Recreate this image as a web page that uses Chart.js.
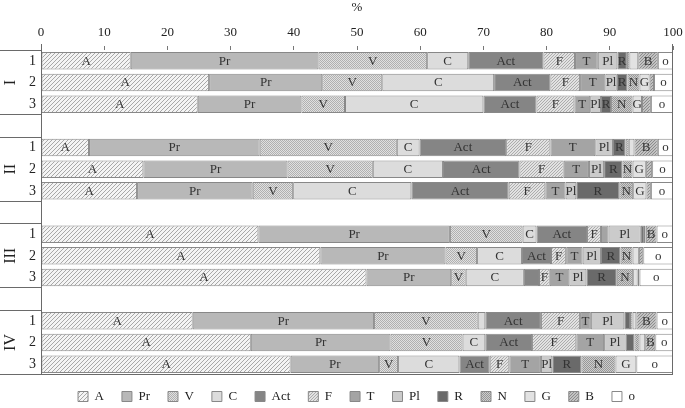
<!DOCTYPE html>
<html>
<head>
<meta charset="utf-8">
<script src="https://cdn.jsdelivr.net/npm/chart.js@4/dist/chart.umd.min.js"></script>
<style>
  html, body { margin: 0; padding: 0; background: #fff; }
  #wrap { width: 685px; height: 408px; }
</style>
</head>
<body>
<div id="wrap"><canvas id="shares"></canvas></div>
<script>
// rows: three samples per group, an empty row between groups
const rowLabels = ['1', '2', '3', '', '1', '2', '3', '', '1', '2', '3', '', '1', '2', '3'];
const groupLabels = ['I', 'II', 'III', 'IV'];

// shares in %, one value per row
const A   = [14.2, 26.6, 24.8, null, 7.6, 16.2, 15.2, null, 34.4, 44.2, 51.5, null, 24.0, 33.2, 39.5];
const Pr  = [29.7, 17.9, 16.4, null, 27.0, 22.8, 18.3, null, 30.3, 19.8, 13.4, null, 28.7, 22.1, 14.0];
const V   = [17.2, 9.5, 6.9, null, 21.7, 13.5, 6.4, null, 11.5, 5.0, 2.3, null, 16.4, 11.4, 3.0];
const C   = [6.5, 17.7, 21.9, null, 3.6, 11.1, 18.7, null, 2.2, 7.1, 9.2, null, 1.2, 3.6, 9.7];
const Act = [11.9, 8.9, 8.4, null, 13.7, 12.1, 15.4, null, 8.0, 4.6, 2.4, null, 8.8, 7.4, 4.8];
const F   = [5.0, 4.7, 6.0, null, 7.0, 7.0, 5.8, null, 2.2, 2.4, 1.7, null, 6.2, 7.0, 3.1];
const T   = [3.6, 4.0, 2.5, null, 7.1, 4.0, 3.2, null, 1.2, 2.6, 3.1, null, 1.7, 4.4, 5.0];
const Pl  = [3.1, 1.8, 1.7, null, 2.8, 2.4, 1.7, null, 5.1, 2.9, 2.7, null, 5.3, 3.4, 1.8];
const R   = [1.5, 1.7, 1.6, null, 2.0, 2.9, 6.8, null, 0.5, 3.1, 4.8, null, 0.9, 1.4, 4.6];
const N   = [0.4, 1.9, 3.4, null, 0.5, 1.6, 2.2, null, 0.2, 1.9, 2.6, null, 0.4, 0.8, 5.4];
const G   = [1.4, 1.6, 1.5, null, 0.9, 2.1, 2.1, null, 0.1, 1.0, 0.7, null, 0.6, 0.9, 3.3];
const B   = [3.1, 0.7, 1.4, null, 3.7, 1.0, 0.7, null, 1.7, 0.7, 0.3, null, 3.2, 1.6, 0];
const o   = [2.4, 3.0, 3.5, null, 2.4, 3.3, 3.5, null, 2.6, 4.7, 5.3, null, 2.6, 2.8, 5.8];

const serif = '"Liberation Serif", "DejaVu Serif", serif';

// small canvas patterns for the hatched fills
function hatch(bg, fg, step, lw) {
  const c = document.createElement('canvas');
  c.width = c.height = step;
  const x = c.getContext('2d');
  x.fillStyle = bg;
  x.fillRect(0, 0, step, step);
  x.strokeStyle = fg;
  x.lineWidth = lw;
  x.beginPath();
  x.moveTo(0, step); x.lineTo(step, 0);
  x.moveTo(-1, 1); x.lineTo(1, -1);
  x.moveTo(step - 1, step + 1); x.lineTo(step + 1, step - 1);
  x.stroke();
  return x.createPattern(c, 'repeat');
}

function dots(c1, c2) {
  const c = document.createElement('canvas');
  c.width = c.height = 2;
  const x = c.getContext('2d');
  x.fillStyle = c1; x.fillRect(0, 0, 2, 2);
  x.fillStyle = c2; x.fillRect(0, 0, 1, 1); x.fillRect(1, 1, 1, 1);
  return x.createPattern(c, 'repeat');
}

const series = [
  { label: 'A', data: A, fill: hatch('#f4f4f4', '#a8a8a8', 4, 1) },
  { label: 'Pr', data: Pr, fill: '#b8b8b8' },
  { label: 'V', data: V, fill: dots('#e0e0e0', '#b0b0b0') },
  { label: 'C', data: C, fill: '#dcdcdc' },
  { label: 'Act', data: Act, fill: '#858585' },
  { label: 'F', data: F, fill: hatch('#e2e2e2', '#acacac', 3, 1) },
  { label: 'T', data: T, fill: '#a4a4a4' },
  { label: 'Pl', data: Pl, fill: '#cbcbcb' },
  { label: 'R', data: R, fill: '#6a6a6a' },
  { label: 'N', data: N, fill: dots('#cdcdcd', '#979797') },
  { label: 'G', data: G, fill: '#e2e2e2' },
  { label: 'B', data: B, fill: hatch('#c2c2c2', '#8c8c8c', 3, 1) },
  { label: 'o', data: o, fill: '#ffffff' }
];

// segment names written inside the bars when they fit
const segmentText = {
  id: 'segmentText',
  afterDatasetsDraw(chart) {
    const ctx = chart.ctx;
    ctx.save();
    ctx.font = '13px ' + serif;
    ctx.fillStyle = '#333';
    ctx.textAlign = 'center';
    ctx.textBaseline = 'middle';
    chart.data.datasets.forEach((ds, i) => {
      chart.getDatasetMeta(i).data.forEach((bar, j) => {
        if (ds.data[j] == null) return;
        const p = bar.getProps(['x', 'y', 'base'], true);
        const w = Math.abs(p.x - p.base);
        if (w < 9.2 || ctx.measureText(ds.label).width > w + 2) return;
        ctx.fillText(ds.label, (p.x + p.base) / 2, p.y + 0.5);
      });
    });
    ctx.restore();
  }
};

// frame lines and the group dividers / numerals on the left
const frame = {
  id: 'frame',
  beforeLayout(chart) {
    // keep the legend strip short so the plot reaches down like the original
    const lg = chart.legend;
    if (lg && !lg._short) {
      const fit = lg.fit.bind(lg);
      lg.fit = function () { fit(); this.height = 31; };
      lg._short = true;
    }
  },
  afterLayout(chart) {
    const lg = chart.legend;
    if (lg) { lg.left += 14; lg.right += 14; lg.top -= 3; lg.bottom -= 3; }
  },
  afterDraw(chart) {
    const ctx = chart.ctx;
    const a = chart.chartArea;
    const y = chart.scales.y;
    const half = (y.getPixelForValue(1) - y.getPixelForValue(0)) / 2;
    ctx.save();
    ctx.strokeStyle = '#6a6a6a';
    ctx.lineWidth = 1;
    ctx.beginPath();
    ctx.moveTo(a.left + 0.5, a.top - 6); ctx.lineTo(a.left + 0.5, a.bottom);
    ctx.moveTo(a.right - 0.5, a.top - 6); ctx.lineTo(a.right - 0.5, a.bottom);
    ctx.moveTo(a.left, a.bottom - 0.5); ctx.lineTo(a.right, a.bottom - 0.5);
    groupLabels.forEach((g, k) => {
      const t = Math.round(y.getPixelForValue(k * 4) - half) + 0.5;
      const b = Math.round(y.getPixelForValue(k * 4 + 2) + half) - 0.5;
      ctx.moveTo(0, t); ctx.lineTo(a.left, t);
      ctx.moveTo(0, b); ctx.lineTo(a.left, b);
    });
    ctx.stroke();
    ctx.fillStyle = '#222';
    ctx.font = '16px ' + serif;
    ctx.textAlign = 'center';
    ctx.textBaseline = 'middle';
    groupLabels.forEach((g, k) => {
      ctx.save();
      ctx.translate(11, y.getPixelForValue(k * 4 + 1));
      ctx.rotate(-Math.PI / 2);
      ctx.fillText(g, 0, 0);
      ctx.restore();
    });
    ctx.restore();
  }
};

const ctx = document.getElementById('shares').getContext('2d');
new Chart(ctx, {
  type: 'bar',
  data: {
    labels: rowLabels,
    datasets: series.map(s => ({
      label: s.label,
      data: s.data,
      backgroundColor: s.fill,
      borderColor: '#888',
      borderWidth: 1,
      borderSkipped: false,
      barPercentage: 0.81,
      categoryPercentage: 1
    }))
  },
  plugins: [segmentText, frame],
  options: {
    indexAxis: 'y',
    responsive: true,
    maintainAspectRatio: false,
    animation: false,
    layout: { padding: { left: 0, right: 0, top: 0, bottom: 2 } },
    scales: {
      x: {
        position: 'top',
        stacked: true,
        min: 0,
        max: 100,
        ticks: { stepSize: 10, color: '#222', font: { family: serif, size: 13 }, padding: 6 },
        grid: { drawOnChartArea: false, tickLength: 4, color: '#777' },
        border: { display: false },
        title: { display: true, text: '%', color: '#222', font: { family: serif, size: 13 }, padding: { top: 0, bottom: 2 } },
        afterFit: s => { s.height = 50; s.paddingLeft = 0; s.paddingRight = 12; }
      },
      y: {
        stacked: true,
        ticks: { color: '#222', font: { family: serif, size: 14 }, padding: 5 },
        grid: { display: false, drawTicks: false },
        border: { display: false },
        afterFit: s => { s.width = 41; }
      }
    },
    plugins: {
      legend: {
        position: 'bottom',
        labels: {
          color: '#222',
          font: { family: serif, size: 13 },
          boxWidth: 10,
          boxHeight: 10,
          padding: 18
        }
      },
      tooltip: { enabled: false }
    }
  }
});
</script>
</body>
</html>
